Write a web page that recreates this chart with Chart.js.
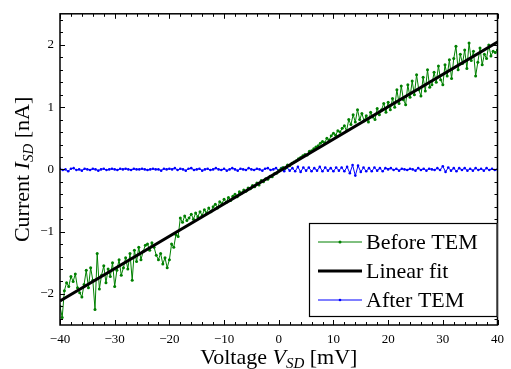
<!DOCTYPE html>
<html>
<head>
<meta charset="utf-8">
<script src="https://cdn.jsdelivr.net/npm/chart.js@4/dist/chart.umd.min.js"></script>
<style>
  html, body { margin: 0; padding: 0; background: #fff; }
  #wrap { width: 511px; height: 369px; }
</style>
</head>
<body>
<div id="wrap"><canvas id="chart" width="511" height="369"></canvas></div>
<script>
// Before TEM: sweep from -40 mV to 40 mV in 0.4 mV steps
const beforeStart = -40, beforeStep = 0.4;
const beforeCurrent = [
  -2.20, -2.38, -1.95, -1.82, -1.88, -1.72, -1.80, -1.68, -1.90, -1.98,
  -2.05, -1.85, -1.62, -1.90, -1.58, -1.78, -2.25, -1.35, -1.92, -1.70,
  -1.55, -1.82, -1.60, -1.72, -1.50, -1.88, -1.62, -1.45, -1.70, -1.58,
  -1.42, -1.60, -1.35, -1.78, -1.30, -1.48, -1.25, -1.45, -1.32, -1.22,
  -1.20, -1.30, -1.18, -1.25, -1.38, -1.45, -1.35, -1.52, -1.42, -1.58,
  -1.45, -1.20, -1.25, -1.05, -1.08, -0.78, -0.85, -0.75, -0.82, -0.78,
  -0.72, -0.80, -0.70, -0.76, -0.68, -0.74, -0.65, -0.70, -0.62, -0.68,
  -0.60, -0.56, -0.62, -0.52, -0.55, -0.48, -0.53, -0.45, -0.50, -0.43,
  -0.40, -0.44, -0.36, -0.38, -0.33, -0.35, -0.30, -0.31, -0.26, -0.28,
  -0.22, -0.25, -0.18, -0.20, -0.15, -0.16, -0.11, -0.12, -0.07, -0.06,
  -0.02, 0.01, 0.03, 0.02, 0.07, 0.06, 0.10, 0.12, 0.14, 0.17,
  0.19, 0.22, 0.24, 0.23, 0.29, 0.30, 0.33, 0.36, 0.38, 0.42,
  0.45, 0.43, 0.50, 0.47, 0.54, 0.58, 0.55, 0.62, 0.60, 0.66,
  0.70, 0.62, 0.80, 0.72, 0.88, 0.76, 0.96, 0.80, 0.90, 0.78,
  0.86, 0.76, 0.92, 0.84, 0.80, 0.98, 0.88, 0.96, 1.06, 0.92,
  1.08, 0.96, 1.14, 1.00, 1.28, 1.06, 1.34, 1.12, 1.04, 1.36,
  1.16, 1.42, 1.20, 1.52, 1.28, 1.18, 1.48, 1.26, 1.60, 1.32,
  1.36, 1.56, 1.40, 1.66, 1.44, 1.36, 1.68, 1.50, 1.76, 1.46,
  1.78, 1.98, 1.60, 1.85, 1.70, 1.92, 1.62, 2.03, 1.75, 1.90,
  1.50, 1.72, 1.95, 1.68, 1.85, 1.78, 2.00, 1.82, 1.90, 1.88,
  1.92
];

// After TEM: sweep from -40 mV to 40 mV in 0.5 mV steps
const afterStart = -40, afterStep = 0.5;
const afterCurrent = [
  0.01, -0.01, 0.00, -0.03, 0.01, 0.02, -0.01, 0.00, -0.02, 0.01, 0.00, -0.01, 0.01, 0.00, -0.02, 0.00, 0.01, -0.01, 0.00, 0.01,
  0.00, -0.01, 0.01, 0.00, 0.01, 0.00, -0.01, 0.01, 0.00, 0.00, 0.01, 0.00, -0.01, 0.00, 0.01, 0.00, 0.00, -0.02, 0.01, 0.00,
  0.01, 0.00, 0.02, -0.01, 0.01, 0.00, -0.02, 0.01, 0.02, -0.01, 0.00, 0.01, -0.02, 0.00, 0.01, -0.01, 0.00, 0.02, 0.00, -0.01,
  0.01, -0.02, 0.00, 0.02, 0.00, -0.02, 0.01, 0.00, -0.01, 0.02, 0.00, -0.01, 0.01, 0.00, -0.02, 0.01, 0.02, -0.01, 0.00, 0.02,
  -0.02, 0.02, -0.03, 0.03, -0.02, 0.02, -0.03, 0.04, -0.04, 0.03, -0.02, 0.03, -0.03, 0.02, -0.02, 0.04, -0.03, 0.03, -0.02, 0.02,
  -0.03, 0.03, -0.02, 0.03, -0.03, 0.04, -0.06, 0.07, -0.10, 0.06, -0.04, 0.03, -0.03, 0.02, -0.03, 0.03, -0.02, 0.02, -0.03, 0.02,
  0.00, 0.02, -0.01, 0.01, -0.02, 0.01, 0.00, -0.01, 0.01, 0.00, -0.02, 0.02, -0.01, 0.01, -0.02, 0.01, 0.00, -0.01, 0.02, -0.01,
  0.05, -0.04, 0.03, -0.02, 0.02, -0.03, 0.02, -0.01, 0.02, -0.02, 0.01, -0.02, 0.02, -0.01, 0.01, -0.02, 0.02, -0.01, 0.01, -0.01,
  0.00
];

// Linear fit end points
const fitVoltage = [-40, 40];
const fitCurrent = [-2.115, 2.045];

const xTicks = [-40, -30, -20, -10, 0, 10, 20, 30, 40];
const yTicks = [-2, -1, 0, 1, 2];
const xMinorStep = 2, yMinorStep = 0.2;

const SERIF = '"Liberation Serif", "Times New Roman", serif';

const toPoints = (start, step, ys) => ys.map((y, i) => ({ x: +(start + i * step).toFixed(2), y: y }));

// draw text made of several font runs, centered at (cx, cy baseline)
function drawRich(ctx, parts, cx, cy) {
    let total = 0;
    parts.forEach(p => { ctx.font = p.font; total += ctx.measureText(p.t).width; });
    let x = cx - total / 2;
    ctx.textBaseline = 'alphabetic';
    ctx.textAlign = 'left';
    parts.forEach(p => {
        ctx.font = p.font;
        ctx.fillText(p.t, x, cy + (p.dy || 0));
        x += ctx.measureText(p.t).width;
    });
}

const framePlugin = {
    id: 'frame',
    afterDatasetsDraw(chart) {
        const { ctx, chartArea: a, scales } = chart;
        ctx.save();
        ctx.strokeStyle = '#000';
        ctx.lineWidth = 1.5;
        ctx.strokeRect(a.left, a.top, a.right - a.left, a.bottom - a.top);

        ctx.lineWidth = 1;
        ctx.beginPath();
        // x ticks, bottom and top, pointing inwards
        for (let v = -40; v <= 40.001; v += xMinorStep) {
            const px = Math.round(scales.x.getPixelForValue(v)) + 0.5;
            const len = (Math.abs(v % 10) < 0.001) ? 5 : 3;
            ctx.moveTo(px, a.bottom); ctx.lineTo(px, a.bottom - len);
            ctx.moveTo(px, a.top); ctx.lineTo(px, a.top + len);
        }
        // y ticks, left and right
        for (let v = -2.4; v <= 2.401; v += yMinorStep) {
            const py = Math.round(scales.y.getPixelForValue(v)) + 0.5;
            const major = Math.abs(v - Math.round(v)) < 0.001;
            const len = major ? 5 : 3;
            ctx.moveTo(a.left, py); ctx.lineTo(a.left + len, py);
            ctx.moveTo(a.right, py); ctx.lineTo(a.right - len, py);
        }
        ctx.stroke();
        ctx.restore();
    },
    afterDraw(chart) {
        const { ctx, chartArea: a } = chart;
        ctx.save();
        ctx.fillStyle = '#000';

        // axis titles
        const big = '22px ' + SERIF, it = 'italic 22px ' + SERIF, sub = 'italic 15px ' + SERIF;
        drawRich(ctx, [
            { t: 'Voltage ', font: big },
            { t: 'V', font: it },
            { t: 'SD', font: sub, dy: 4 },
            { t: ' [mV]', font: big }
        ], (a.left + a.right) / 2, 364);

        ctx.save();
        ctx.translate(29, (a.top + a.bottom) / 2);
        ctx.rotate(-Math.PI / 2);
        drawRich(ctx, [
            { t: 'Current ', font: big },
            { t: 'I', font: it },
            { t: 'SD', font: sub, dy: 4 },
            { t: ' [nA]', font: big }
        ], 0, 0);
        ctx.restore();

        // legend box in lower right corner
        const bx = 309, by = 223, bw = a.right - bx, bh = 94;
        ctx.fillStyle = '#fff';
        ctx.fillRect(bx, by, bw, bh);
        ctx.strokeStyle = '#000';
        ctx.lineWidth = 1.2;
        ctx.strokeRect(bx + 0.5, by + 0.5, bw - 1, bh - 1);

        const order = [1, 0, 2];
        order.forEach((di, row) => {
            const ds = chart.data.datasets[di];
            const y = by + 19 + row * 29;
            ctx.strokeStyle = ds.borderColor;
            ctx.lineWidth = ds.borderWidth;
            ctx.beginPath();
            ctx.moveTo(318, y);
            ctx.lineTo(362, y);
            ctx.stroke();
            if (ds.pointRadius > 0) {
                ctx.fillStyle = ds.borderColor;
                ctx.beginPath();
                ctx.arc(340, y, ds.pointRadius, 0, Math.PI * 2);
                ctx.fill();
            }
            ctx.fillStyle = '#000';
            ctx.font = '22px ' + SERIF;
            ctx.textBaseline = 'middle';
            ctx.textAlign = 'left';
            ctx.fillText(ds.label, 366, y + 1);
        });
        ctx.restore();
    }
};

const minus = v => String(v).replace('-', '\u2212');

new Chart(document.getElementById('chart'), {
    type: 'line',
    data: {
        datasets: [
            {
                label: 'Linear fit',
                data: fitVoltage.map((x, i) => ({ x: x, y: fitCurrent[i] })),
                borderColor: '#000',
                borderWidth: 3,
                pointRadius: 0
            },
            {
                label: 'Before TEM',
                data: toPoints(beforeStart, beforeStep, beforeCurrent),
                borderColor: 'rgb(0,128,0)',
                backgroundColor: 'rgb(0,128,0)',
                borderWidth: 1,
                pointRadius: 1.5,
                pointBorderWidth: 0
            },
            {
                label: 'After TEM',
                data: toPoints(afterStart, afterStep, afterCurrent),
                borderColor: 'rgb(0,0,255)',
                backgroundColor: 'rgb(0,0,255)',
                borderWidth: 1,
                pointRadius: 1.3,
                pointBorderWidth: 0
            }
        ]
    },
    options: {
        responsive: false,
        animation: false,
        events: [],
        layout: { padding: { top: 10, right: 10, left: 0, bottom: 0 } },
        plugins: {
            legend: { display: false },
            tooltip: { enabled: false }
        },
        scales: {
            x: {
                type: 'linear',
                min: -40,
                max: 40,
                afterBuildTicks: scale => { scale.ticks = xTicks.map(v => ({ value: v })); },
                afterFit: scale => { scale.height = 44; },
                grid: { display: false, drawTicks: false },
                border: { display: false },
                ticks: {
                    color: '#000',
                    padding: 7,
                    maxRotation: 0,
                    font: { family: SERIF, size: 13 },
                    callback: v => minus(v)
                }
            },
            y: {
                type: 'linear',
                min: -2.5,
                max: 2.5,
                afterBuildTicks: scale => { scale.ticks = yTicks.map(v => ({ value: v })); },
                afterFit: scale => { scale.width = 60; },
                grid: { display: false, drawTicks: false },
                border: { display: false },
                ticks: {
                    color: '#000',
                    padding: 6,
                    font: { family: SERIF, size: 13 },
                    callback: v => minus(v)
                }
            }
        }
    },
    plugins: [framePlugin]
});
</script>
</body>
</html>
